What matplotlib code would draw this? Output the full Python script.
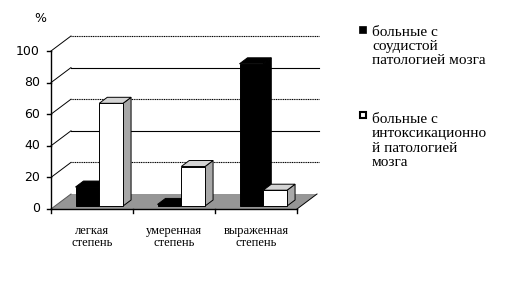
import matplotlib
matplotlib.use("Agg")
import matplotlib.pyplot as plt
from matplotlib.patches import Polygon, Rectangle

# data
categories = ["легкая\nстепень", "умеренная\nстепень", "выраженная\nстепень"]
series_names = ["больные с\nсоудистой\nпатологией мозга",
                "больные с\nинтоксикационно\nй патологией\nмозга"]
vascular = [12, 1, 90]
toxic = [65, 25, 10]
y_ticks = [0, 20, 40, 60, 80, 100]

W, H = 517, 298
fig = plt.figure(figsize=(W / 100, H / 100), dpi=100)
ax = fig.add_axes([0, 0, 1, 1])
ax.set_axis_off()

# pixel mapping: category unit = 82 px, value unit = 1.58 px
X0, XU = 51.0, 82.0
Y0, YU = 209.0, 1.58
ax.set_xlim(-X0 / XU, (W - X0) / XU)
ax.set_ylim((Y0 - H) / YU, Y0 / YU)

# oblique depth offset (full depth of the chart box)
DX = 20.0 / XU
DY = 15.0 / YU
ncat = len(categories)

# floor
floor = Polygon([(0, 0), (ncat, 0), (ncat + DX, DY), (DX, DY)],
                closed=True, facecolor="#969696", edgecolor="none", zorder=1)
ax.add_patch(floor)
ax.plot([ncat, ncat + DX], [0, DY], color="black", lw=0.7, zorder=2)

# back wall gridlines and left wall diagonals
for t in y_ticks[1:]:
    ls = (0, (1, 0.6)) if t in (20, 60, 100) else "-"
    ax.plot([DX, ncat + DX + 2.0 / XU], [t + DY, t + DY], color="black",
            lw=0.8, ls=ls, zorder=1)
    ax.plot([0, DX], [t, t + DY], color="black", lw=0.7, zorder=1)
ax.plot([0, DX], [0, DY], color="#555555", lw=0.7, zorder=1)

# axes lines
ax.plot([0, 0], [0, 100], color="black", lw=1.0, zorder=3)
ax.plot([0, ncat], [0, 0], color="black", lw=1.0, zorder=3)
for t in y_ticks:
    ax.plot([-4 / XU, 0], [t, t], color="black", lw=1.0, zorder=3)
    ax.text(-11 / XU, t, str(t), ha="right", va="center",
            fontsize=9, family="DejaVu Sans", zorder=3)
for i in range(ncat + 1):
    ax.plot([i, i], [0, -4 / YU], color="black", lw=1.0, zorder=3)
ax.text(-11 / XU, (Y0 - 18) / YU, "%", ha="center", va="center",
        fontsize=9, family="DejaVu Sans")

for i, lab in enumerate(categories):
    ax.text(i + 0.5, (Y0 - 237) / YU, lab,
            ha="center", va="center", fontsize=9,
            family="Liberation Serif", linespacing=1.1)

# bars
F0, F1 = 0.2, 0.6     # depth fraction of bar front / back faces
BW = 0.29
starts = [0.25, 0.54]


def bar3d(x0, v, face, side, top, z):
    x1 = x0 + BW
    fx, fy = F0 * DX, F0 * DY
    bx, by = F1 * DX, F1 * DY
    ec = "black"
    # side face
    ax.add_patch(Polygon([(x1 + fx, fy), (x1 + bx, by), (x1 + bx, v + by),
                          (x1 + fx, v + fy)], closed=True, facecolor=side,
                         edgecolor=ec, lw=0.7, zorder=z))
    # top face
    ax.add_patch(Polygon([(x0 + fx, v + fy), (x1 + fx, v + fy),
                          (x1 + bx, v + by), (x0 + bx, v + by)], closed=True,
                         facecolor=top, edgecolor=ec, lw=0.7, zorder=z))
    # front face
    ax.add_patch(Polygon([(x0 + fx, fy), (x1 + fx, fy), (x1 + fx, v + fy),
                          (x0 + fx, v + fy)], closed=True, facecolor=face,
                         edgecolor=ec, lw=0.7, zorder=z))


z = 4
for i in range(ncat):
    bar3d(i + starts[0], vascular[i], "black", "black", "black", z)
    z += 1
    bar3d(i + starts[1], toxic[i], "white", "#a8a8a8", "#d4d4d4", z)
    z += 1


# legend
def fx_(px):
    return px / W


def fy_(py):
    return 1 - py / H


fig.patches.append(Rectangle((fx_(359), fy_(33)), 7 / W, 7 / H,
                             transform=fig.transFigure, facecolor="black",
                             edgecolor="black", lw=0.5))
fig.patches.append(Rectangle((fx_(360), fy_(118)), 6 / W, 6 / H,
                             transform=fig.transFigure, facecolor="white",
                             edgecolor="black", lw=1.5))
fig.text(fx_(372), fy_(46.5), series_names[0], ha="left", va="center",
         fontsize=11, family="Liberation Serif", linespacing=1.15)
fig.text(fx_(372), fy_(141), series_names[1], ha="left", va="center",
         fontsize=11, family="Liberation Serif", linespacing=1.15)

fig.savefig("out.png", dpi=100, facecolor="white")
